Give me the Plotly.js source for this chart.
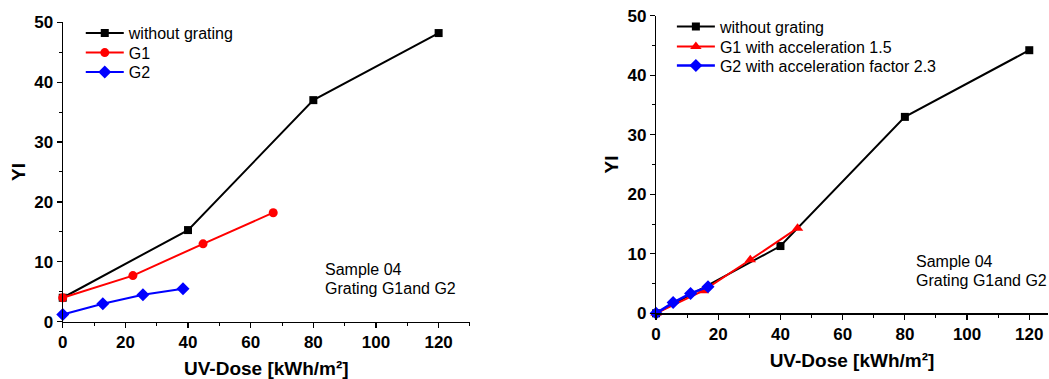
<!DOCTYPE html>
<html>
<head>
<meta charset="utf-8">
<script src="https://cdn.plot.ly/plotly-3.0.1.min.js"></script>
<style>html,body{margin:0;padding:0;background:#fff;}#chart{width:1049px;height:379px;}</style>
</head>
<body>
<div id="chart"></div>
<script>
// Left panel data
const leftNoGratingX = [0, 40, 80, 120];
const leftNoGratingY = [4, 15.3, 37, 48.2];
const leftG1X = [0, 22.4, 44.8, 67.2];
const leftG1Y = [4, 7.7, 13, 18.2];
const leftG2X = [0, 12.8, 25.6, 38.4];
const leftG2Y = [1.2, 3, 4.5, 5.5];

// Right panel data
const rightNoGratingX = [0, 40, 80, 120];
const rightNoGratingY = [0, 11.3, 33, 44.2];
const rightG1X = [0, 15.2, 30.3, 45.5];
const rightG1Y = [0, 3.8, 9, 14.3];
const rightG2X = [0, 5.5, 11.1, 16.7];
const rightG2Y = [0, 1.8, 3.35, 4.45];

const leftNames = ["without grating", "G1", "G2"];
const rightNames = ["without grating", "G1 with acceleration 1.5", "G2 with acceleration factor 2.3"];
const noteLines = ["Sample 04", "Grating G1and G2"];
const xTitle = "UV-Dose [kWh/m²]";
const yTitle = "YI";

const F = "Liberation Sans, Arial, sans-serif";

function tr(x, y, name, color, symbol, size, xa, ya, legend, lw) {
  return {
    x: x, y: y, name: name, type: "scatter", mode: "lines+markers",
    xaxis: xa, yaxis: ya, legend: legend, cliponaxis: false,
    line: {color: color, width: lw},
    marker: {color: color, symbol: symbol, size: size}
  };
}

const data = [
  tr(leftNoGratingX, leftNoGratingY, leftNames[0], "#000000", "square", 8, "x", "y", "legend", 2),
  tr(leftG1X, leftG1Y, leftNames[1], "#ff0000", "circle", 9, "x", "y", "legend2", 2),
  tr(leftG2X, leftG2Y, leftNames[2], "#0000ff", "diamond", 10, "x", "y", "legend3", 2),
  tr(rightNoGratingX, rightNoGratingY, rightNames[0], "#000000", "square", 8, "x2", "y2", "legend4", 2),
  tr(rightG1X, rightG1Y, rightNames[1], "#ff0000", "triangle-up", 10, "x2", "y2", "legend5", 2),
  tr(rightG2X, rightG2Y, rightNames[2], "#0000ff", "diamond", 10, "x2", "y2", "legend6", 2.5)
];

const tickFont = {family: F, size: 17, color: "#000", weight: "bold"};
const titleFont = {family: F, size: 19, color: "#000", weight: "bold"};

function xAxis(domain, range, anchor) {
  return {
    domain: domain, range: range, anchor: anchor,
    showgrid: false, zeroline: false, showline: true, linecolor: "#000", linewidth: 1.2,
    ticks: "outside", ticklen: 5, tickwidth: 1.2, tickcolor: "#000",
    dtick: 20, tick0: 0, tickfont: tickFont,
    minor: {dtick: 10, ticks: "outside", ticklen: 3, tickwidth: 1, tickcolor: "#000"},
    title: {text: xTitle, font: titleFont, standoff: 10}
  };
}
function yAxis(domain, anchor) {
  return {
    domain: domain, range: [0, 50], anchor: anchor,
    showgrid: false, zeroline: false, showline: true, linecolor: "#000", linewidth: 1.2,
    ticks: "outside", ticklen: 5, tickwidth: 1.2, tickcolor: "#000",
    dtick: 10, tick0: 0, tickfont: tickFont,
    minor: {dtick: 5, ticks: "outside", ticklen: 3, tickwidth: 1, tickcolor: "#000"},
    title: {text: yTitle, font: titleFont, standoff: 3}
  };
}

function note(x, y, t) {
  return {xref: "paper", yref: "paper", x: x, y: y, xanchor: "left", yanchor: "middle",
    text: t, showarrow: false, font: {family: F, size: 16, color: "#000"}};
}

const legendFont = {family: F, size: 16, color: "#000"};
function leg(x, y) {
  return {x: x, y: y, xanchor: "left", yanchor: "middle", bgcolor: "rgba(0,0,0,0)",
    font: legendFont, itemwidth: 38};
}

const layout = {
  width: 1049, height: 379,
  margin: {l: 0, r: 0, t: 0, b: 0},
  paper_bgcolor: "#fff", plot_bgcolor: "#fff",
  showlegend: true,
  xaxis: xAxis([0.0598, 0.448], [0, 130], "y"),
  yaxis: yAxis([0.1512, 0.9412], "x"),
  xaxis2: xAxis([0.6254, 0.999], [0, 126], "y2"),
  yaxis2: yAxis([0.1733, 0.9586], "x2"),
  legend: leg(0.077, 0.9129),
  legend2: leg(0.077, 0.8610),
  legend3: leg(0.077, 0.8100),
  legend4: leg(0.6405, 0.9296),
  legend5: leg(0.6405, 0.8768),
  legend6: leg(0.6405, 0.8267),
  annotations: [
    note(0.3079, 0.2902, noteLines[0]),
    note(0.3079, 0.2401, noteLines[1]),
    note(0.871, 0.3095, noteLines[0]),
    note(0.871, 0.2594, noteLines[1])
  ]
};

Plotly.newPlot("chart", data, layout, {displayModeBar: false, staticPlot: true});
</script>
</body>
</html>
